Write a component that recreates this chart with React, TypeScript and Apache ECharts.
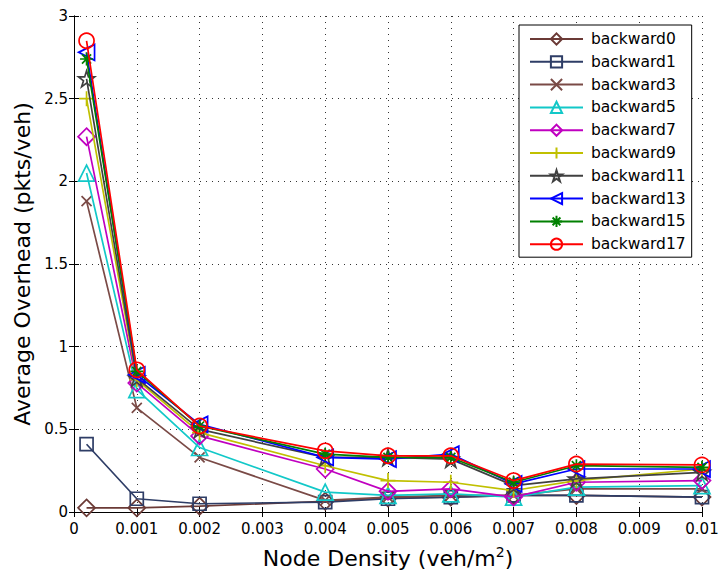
import React, { useEffect, useRef } from "react";
import * as echarts from "echarts";

const xValues = [0.0002, 0.001, 0.002, 0.004, 0.005, 0.006, 0.007, 0.008, 0.01];
const seriesNames = [
  "backward0", "backward1", "backward3", "backward5", "backward7",
  "backward9", "backward11", "backward13", "backward15", "backward17",
];
const backward0 = [0.025, 0.025, 0.035, 0.065, 0.085, 0.09, 0.10, 0.10, 0.09];
const backward1 = [0.41, 0.08, 0.05, 0.06, 0.08, 0.09, 0.10, 0.10, 0.09];
const backward3 = [1.88, 0.63, 0.33, 0.07, 0.09, 0.10, 0.10, 0.14, 0.14];
const backward5 = [2.05, 0.74, 0.39, 0.12, 0.10, 0.11, 0.09, 0.15, 0.16];
const backward7 = [2.27, 0.78, 0.46, 0.26, 0.125, 0.14, 0.09, 0.18, 0.19];
const backward9 = [2.50, 0.80, 0.48, 0.28, 0.19, 0.18, 0.13, 0.19, 0.26];
const backward11 = [2.62, 0.81, 0.50, 0.33, 0.33, 0.32, 0.16, 0.20, 0.24];
const backward13 = [2.78, 0.83, 0.53, 0.33, 0.32, 0.35, 0.17, 0.26, 0.26];
const backward15 = [2.74, 0.85, 0.52, 0.35, 0.33, 0.33, 0.18, 0.28, 0.27];
const backward17 = [2.85, 0.86, 0.52, 0.37, 0.34, 0.34, 0.19, 0.29, 0.285];
const allValues = [
  backward0, backward1, backward3, backward5, backward7,
  backward9, backward11, backward13, backward15, backward17,
];
const colors = [
  "#6b3a36", "#2e3d66", "#7a4a46", "#12c8c8", "#c000c0",
  "#c0c000", "#404040", "#0000ff", "#008000", "#ff0000",
];
const xTicks = ["0", "0.001", "0.002", "0.003", "0.004", "0.005", "0.006", "0.007", "0.008", "0.009", "0.01"];

const STAR =
  "path://M5,0L6.123,3.455L9.755,3.455L6.817,5.59L7.939,9.045L5,6.91L2.061,9.045L3.183,5.59L0.245,3.455L3.877,3.455Z";
const CROSS = "path://M0,0L10,10M10,0L0,10";
const PLUS = "path://M5,0L5,10M0,5L10,5";
const ASTER = "path://M5,0L5,10M0,5L10,5M1.5,1.5L8.5,8.5M8.5,1.5L1.5,8.5";

const symbols = ["diamond", "rect", CROSS, "triangle", "diamond", PLUS, STAR, "triangle", ASTER, "circle"];
const symbolSizes = [17, 13, 10, 16, 17, 15, 16, 16, 13, 15];
const symbolRotates = [0, 0, 0, 0, 0, 0, 0, 90, 0, 0];

const FONT = "DejaVu Sans";

export default function App() {
  const ref = useRef<HTMLDivElement>(null);
  useEffect(() => {
    document.body.style.margin = "0";
    const chart = echarts.init(ref.current!, null, { renderer: "svg" });
    const series = seriesNames.map((name, i) => ({
      name,
      type: "line",
      data: xValues.map((x, j) => [x, allValues[i][j]]),
      symbol: symbols[i],
      symbolSize: symbolSizes[i],
      symbolRotate: symbolRotates[i],
      showAllSymbol: true,
      lineStyle: { color: colors[i], width: 1.7 },
      itemStyle: { color: "transparent", borderColor: colors[i], borderWidth: 1.7 },
      emphasis: { disabled: true },
      z: 2 + i,
    }));
    const tickStyle = { show: true, inside: true, length: 5, lineStyle: { color: "#000", width: 1 } };
    chart.setOption({
      animation: false,
      backgroundColor: "#fff",
      textStyle: { fontFamily: FONT },
      grid: {
        left: 74, right: 17, top: 16, bottom: 66, show: false,
        containLabel: false, outerBoundsMode: "none",
      },
      legend: {
        orient: "vertical",
        left: 519,
        top: 25,
        data: seriesNames,
        itemWidth: 53,
        itemHeight: 14,
        itemGap: 6.8,
        padding: [6, 6, 5, 10],
        borderColor: "#000",
        borderWidth: 1,
        borderRadius: 0,
        backgroundColor: "#fff",
        textStyle: { fontFamily: FONT, fontSize: 15.5, color: "#000", lineHeight: 16, padding: [0, 0, 0, 3] },
      },
      xAxis: [
        {
          type: "value",
          min: 0,
          max: 0.01,
          interval: 0.001,
          name: "Node Density (veh/m{sup|2})",
          nameLocation: "middle",
          nameGap: 33,
          nameTextStyle: {
            fontFamily: FONT,
            fontSize: 22,
            color: "#000",
            rich: { sup: { fontFamily: FONT, fontSize: 14, color: "#000", padding: [0, 0, 12, 0] } },
          },
          axisLine: { show: true, lineStyle: { color: "#000", width: 1 } },
          axisTick: tickStyle,
          axisLabel: {
            fontFamily: FONT,
            fontSize: 15,
            color: "#000",
            margin: 9,
            formatter: (v: number) => xTicks[Math.round(v / 0.001)] ?? String(v),
          },
          splitLine: { show: true, lineStyle: { color: "#333", type: [1, 5], width: 1 } },
        },
        {
          type: "value",
          position: "top",
          min: 0,
          max: 0.01,
          interval: 0.001,
          axisLine: { show: true, lineStyle: { color: "#000", width: 1 } },
          axisTick: tickStyle,
          axisLabel: { show: false },
          splitLine: { show: false },
        },
      ],
      yAxis: [
        {
          type: "value",
          min: 0,
          max: 3,
          interval: 0.5,
          name: "Average Overhead (pkts/veh)",
          nameLocation: "middle",
          nameGap: 37,
          nameTextStyle: { fontFamily: FONT, fontSize: 22, color: "#000" },
          axisLine: { show: true, lineStyle: { color: "#000", width: 1 } },
          axisTick: tickStyle,
          axisLabel: { fontFamily: FONT, fontSize: 15, color: "#000", margin: 6 },
          splitLine: { show: true, lineStyle: { color: "#333", type: [1, 5], width: 1 } },
        },
        {
          type: "value",
          position: "right",
          min: 0,
          max: 3,
          interval: 0.5,
          axisLine: { show: true, lineStyle: { color: "#000", width: 1 } },
          axisTick: tickStyle,
          axisLabel: { show: false },
          splitLine: { show: false },
        },
      ],
      series,
    });
    return () => chart.dispose();
  }, []);
  return <div ref={ref} style={{ width: 719, height: 578 }} />;
}
